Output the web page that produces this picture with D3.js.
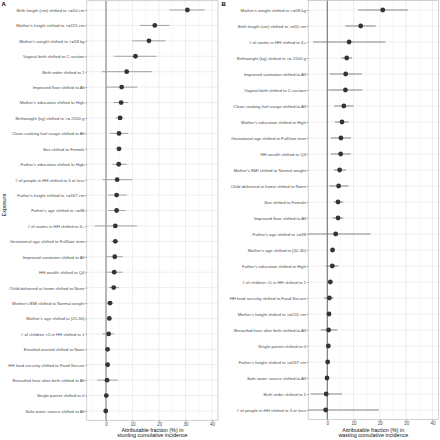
<!DOCTYPE html>
<html><head><meta charset="utf-8">
<script src="https://cdn.jsdelivr.net/npm/d3@7"></script>
<style>body{margin:0;background:#fff}svg{display:block}text{font-family:"Liberation Sans",Arial,sans-serif}</style>
</head><body><svg id="c" width="440" height="440"></svg>
<script>
const labelsA = ["Birth length (cm) shifted to >=50 cm","Mother's height shifted to >=155 cm","Mother's weight shifted to >=58 kg","Vaginal birth shifted to C-section","Birth order shifted to 1","Improved floor shifted to All","Mother's education shifted to High","Birthweight (kg) shifted to >= 2500 g","Clean cooking fuel usage shifted to All","Sex shifted to Female","Father's education shifted to High","# of people in HH shifted to 3 or less","Father's height shifted to >=167 cm","Father's age shifted to >=38","# of rooms in HH shifted to 4+","Gestational age shifted to Full/late term","Improved sanitation shifted to All","HH wealth shifted to Q4","Child delivered at home shifted to None","Mother's BMI shifted to Normal weight","Mother's age shifted to [20-30)","# of children <5 in HH shifted to 1","Enrolled wasted shifted to None","HH food security shifted to Food Secure","Breastfed hour after birth shifted to All","Single parent shifted to 0","Safe water source shifted to All"];
const estA  = [30.7,18.4,16.2,11.1,7.8,5.9,5.7,5.3,4.9,4.9,4.8,4.2,4.0,4.0,3.5,3.5,3.3,3.1,2.9,1.5,1.25,1.0,0.6,0.6,0.4,0.1,-0.1];
const lowA  = [23.9,12.8,9.9,3.1,-1.5,0.0,2.8,3.7,1.5,4.0,2.4,-1.4,0.9,0.9,-4.2,2.1,0.25,0.25,1.0,0.0,0.4,-1.4,0.3,-0.2,-3.4,-0.2,-0.4];
const highA = [37.2,23.9,22.5,19.0,17.4,11.8,8.4,6.5,8.4,5.7,7.8,9.9,7.8,7.4,11.7,4.8,6.4,6.3,4.9,2.8,2.0,3.1,0.9,1.5,4.4,0.4,0.2];

const labelsB = ["Mother's weight shifted to >=58 kg","Birth length (cm) shifted to >=50 cm","# of rooms in HH shifted to 4+","Birthweight (kg) shifted to >= 2500 g","Improved sanitation shifted to All","Vaginal birth shifted to C-section","Clean cooking fuel usage shifted to All","Mother's education shifted to High","Gestational age shifted to Full/late term","HH wealth shifted to Q4","Mother's BMI shifted to Normal weight","Child delivered at home shifted to None","Sex shifted to Female","Improved floor shifted to All","Father's age shifted to >=38","Mother's age shifted to [20-30)","Father's education shifted to High","# of children <5 in HH shifted to 1","HH food security shifted to Food Secure","Mother's height shifted to >=155 cm","Breastfed hour after birth shifted to All","Single parent shifted to 0","Father's height shifted to >=167 cm","Safe water source shifted to All","Birth order shifted to 1","# of people in HH shifted to 3 or less"];
const estB  = [21.1,12.7,8.3,7.4,7.0,6.9,6.3,5.6,5.2,5.1,4.7,4.3,4.1,4.1,3.2,2.0,1.9,1.15,0.8,0.65,0.5,0.4,0.15,-0.1,-0.4,-0.6];
const lowB  = [11.8,6.9,-5.3,5.3,0.9,0.4,2.7,2.9,1.4,1.4,2.5,0.8,2.5,2.0,-8.0,1.3,-0.5,0.0,-1.3,0.2,-2.5,0.1,-0.2,-0.4,-6.3,-9.0];
const highB = [30.6,18.4,22.1,9.4,13.1,13.3,10.0,8.1,9.0,8.9,7.1,8.1,6.1,6.1,16.5,2.9,4.3,2.3,2.4,1.1,3.9,0.7,0.5,0.2,5.6,19.6];

const xTicks = [0,10,20,30,40];
const xMinor = [-5,5,15,25,35];
const xDomain = [-7.25,42.25];

const svg = d3.select("#c");

function panel(o){
  const g = svg.append("g");
  const x = d3.scaleLinear().domain(xDomain).range([o.left,o.right]);
  const y = d3.scalePoint().domain(o.labels).range([o.top,o.bottom]).padding(0.6);
  const id = "clip"+o.tag;
  svg.append("clipPath").attr("id",id).append("rect")
    .attr("x",o.left).attr("y",o.top).attr("width",o.right-o.left).attr("height",o.bottom-o.top);
  g.append("rect").attr("x",o.left).attr("y",o.top).attr("width",o.right-o.left).attr("height",o.bottom-o.top).attr("fill","#fff");
  // grid
  g.selectAll(".mn").data(xMinor).join("line").attr("x1",d=>x(d)).attr("x2",d=>x(d)).attr("y1",o.top).attr("y2",o.bottom).attr("stroke","#f2f2f2").attr("stroke-width",0.5);
  g.selectAll(".mj").data(xTicks).join("line").attr("x1",d=>x(d)).attr("x2",d=>x(d)).attr("y1",o.top).attr("y2",o.bottom).attr("stroke","#e6e6e6").attr("stroke-width",0.7);
  g.selectAll(".hg").data(o.labels).join("line").attr("x1",o.left).attr("x2",o.right).attr("y1",d=>y(d)).attr("y2",d=>y(d)).attr("stroke","#e6e6e6").attr("stroke-width",0.7);
  // zero line
  g.append("line").attr("x1",x(0)).attr("x2",x(0)).attr("y1",o.top).attr("y2",o.bottom).attr("stroke",o.zeroColor).attr("stroke-width",o.zeroWidth);
  const m = g.append("g").attr("clip-path",`url(#${id})`);
  m.selectAll(".ci").data(o.labels).join("line")
    .attr("x1",(d,i)=>x(o.low[i])).attr("x2",(d,i)=>x(o.high[i]))
    .attr("y1",d=>y(d)).attr("y2",d=>y(d)).attr("stroke",o.ciColor).attr("stroke-width",0.9);
  m.selectAll(".pt").data(o.labels).join("circle")
    .attr("cx",(d,i)=>x(o.est[i])).attr("cy",d=>y(d)).attr("r",2.4).attr("fill","#333");
  // border
  g.append("rect").attr("x",o.left).attr("y",o.top).attr("width",o.right-o.left).attr("height",o.bottom-o.top).attr("fill","none").attr("stroke","#b3b3b3").attr("stroke-width",0.6);
  // axes
  const ya = g.append("g").attr("transform",`translate(${o.left},0)`).call(d3.axisLeft(y).tickSize(1.5).tickPadding(0.8));
  ya.select(".domain").remove();
  ya.selectAll("line").attr("stroke","#444").attr("stroke-width",0.5);
  ya.selectAll("text").attr("font-size",4.3).attr("fill","#4d4d4d").attr("font-family","Liberation Sans, Arial, sans-serif");
  const xa = g.append("g").attr("transform",`translate(0,${o.bottom})`).call(d3.axisBottom(x).tickValues(xTicks).tickSize(1.5).tickPadding(1));
  xa.select(".domain").remove();
  xa.selectAll("line").attr("stroke","#444").attr("stroke-width",0.5);
  xa.selectAll("text").attr("font-size",4.6).attr("fill","#4d4d4d").attr("font-family","Liberation Sans, Arial, sans-serif");
  const cx = (o.left+o.right)/2;
  const t = g.append("text").attr("x",cx).attr("y",431.5).attr("text-anchor","middle").attr("font-size",5.4).attr("fill","#111");
  t.append("tspan").attr("x",cx).attr("dy",0).text("Attributable fraction (%) in");
  t.append("tspan").attr("x",cx).attr("dy",5.8).text(o.xtitle);
  g.append("text").attr("x",o.letterX).attr("y",6).attr("font-size",6).attr("font-weight","bold").attr("fill","#000").text(o.tag);
}

panel({tag:"A",labels:labelsA,est:estA,low:lowA,high:highA,left:86.8,right:218,top:0.75,bottom:420.25,
  zeroColor:"#9e9e9e",zeroWidth:1.4,ciColor:"#9a9a9a",xtitle:"stunting cumulative incidence",letterX:1.5});
panel({tag:"B",labels:labelsB,est:estB,low:lowB,high:highB,left:308.2,right:438.4,top:0.4,bottom:419.6,
  zeroColor:"#444",zeroWidth:0.8,ciColor:"#7a7a7a",xtitle:"wasting cumulative incidence",letterX:221.5});

svg.append("text").attr("transform","translate(6,205) rotate(-90)").attr("text-anchor","middle")
  .attr("font-size",5.4).attr("fill","#111").text("Exposure");
</script></body></html>
